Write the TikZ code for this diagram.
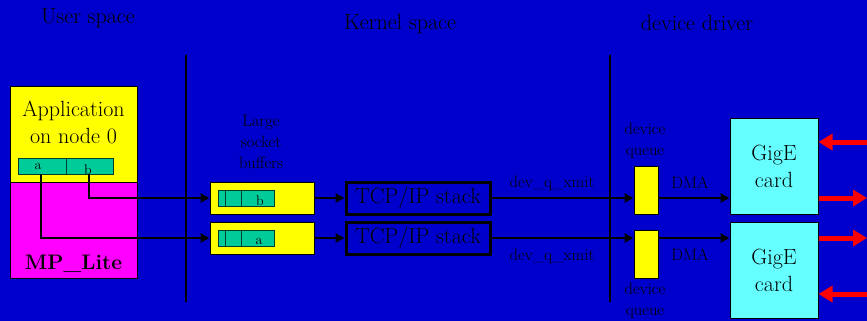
\documentclass[tikz,border=0pt]{standalone}
\usetikzlibrary{arrows.meta}
\definecolor{bg}{HTML}{0000CC}
\definecolor{teal}{HTML}{00CC99}
\definecolor{cardc}{HTML}{66FFFF}
\definecolor{mag}{HTML}{FF00FF}
\definecolor{yel}{HTML}{FFFF00}
\begin{document}
\begin{tikzpicture}[x=1pt,y=-1pt,
  title/.style={font=\fontsize{22}{24}\selectfont, inner sep=0},
  big/.style={font=\fontsize{22}{27}\selectfont, align=center, inner sep=0},
  small/.style={font=\fontsize{16.5}{21}\selectfont, align=center, inner sep=0},
  tiny/.style={font=\fontsize{14}{16}\selectfont, inner sep=0},
  ybox/.style={draw=black, line width=1pt, fill=yel},
  tbox/.style={draw=black!70!teal, line width=1pt, fill=teal},
  stackbox/.style={draw=black, line width=3pt, fill=bg},
  conn/.style={draw=black, line width=2.5pt, -{Triangle[length=9pt,width=9pt]}},
  redarr/.style={draw=red, line width=5pt, -{Triangle[length=14pt,width=16pt]}},
  sep/.style={draw=black, line width=1.5pt}]
\fill[bg] (0,0) rectangle (867,321);
\useasboundingbox (0,0) rectangle (867,321);
% titles
\node[title] (tu) at (88,18) {User space};
\node[title] (tk) at (400,24) {Kernel space};
\node[title] (td) at (697,23) {device driver};
% separators
\coordinate (s1a) at (186,55); \coordinate (s1b) at (186,302);
\coordinate (s2a) at (610,55); \coordinate (s2b) at (610,302);
\draw[sep] (s1a) -- (s1b);
\draw[sep] (s2a) -- (s2b);
% application
\path[ybox] (10,86) rectangle (137,182);
\path[draw=black, line width=1pt, fill=mag] (10,182) rectangle (137,278);
\node[big] (app) at (73.5,122) {Application\\on node 0};
\node[font=\bfseries\fontsize{21}{24}\selectfont, inner sep=0] (mpl) at (73.5,264) {MP\_Lite};
\path[tbox] (18,158) rectangle (113,174);
\draw[black!70!teal, line width=1pt] (66,158) -- (66,174);
\node[tiny] (la) at (38,166) {a};
\node[tiny] (lb) at (88,170) {b};
\coordinate (pa) at (41,174);
\coordinate (pb) at (89,174);
% socket buffers
\node[small] (lsb) at (261,142) {Large\\socket\\buffers};
\node[ybox, minimum width=104pt, minimum height=32pt, inner sep=0] (sb1) at (262,198) {};
\node[ybox, minimum width=104pt, minimum height=32pt, inner sep=0] (sb2) at (262,238) {};
\path[tbox] (218,190) rectangle (274,206);
\draw[black!70!teal, line width=1pt] (225,190) -- (225,206) (241,190) -- (241,206);
\node[tiny] (sbb) at (260,201) {b};
\path[tbox] (218,230) rectangle (274,246);
\draw[black!70!teal, line width=1pt] (225,230) -- (225,246) (241,230) -- (241,246);
\node[tiny] (sba) at (259,241) {a};
% wires from app buffer
\draw[conn] (pb) |- (sb1.west);
\draw[conn] (pa) |- (sb2.west);
% TCP stacks
\node[stackbox, minimum width=144pt, minimum height=32pt, inner sep=0, font=\fontsize{22}{24}\selectfont] (tcp1) at (418,198) {TCP/IP stack};
\node[stackbox, minimum width=144pt, minimum height=32pt, inner sep=0, font=\fontsize{22}{24}\selectfont] (tcp2) at (418,238) {TCP/IP stack};
\draw[conn] (sb1.east) -- (tcp1.west);
\draw[conn] (sb2.east) -- (tcp2.west);
% device queues
\node[ybox, minimum width=24pt, minimum height=48pt, inner sep=0] (dq1) at (646,190) {};
\node[ybox, minimum width=24pt, minimum height=48pt, inner sep=0] (dq2) at (646,254) {};
\node[small] (ldq1) at (645,141) {device\\queue};
\node[small] (ldq2) at (645,301) {device\\queue};
\coordinate (dq1in) at (dq1.west |- tcp1.east);
\coordinate (dq2in) at (dq2.west |- tcp2.east);
\draw[conn] (tcp1.east) -- (dq1in);
\draw[conn] (tcp2.east) -- (dq2in);
\node[small] (x1) at (552,183) {dev\_q\_xmit};
\node[small] (x2) at (552,256) {dev\_q\_xmit};
% GigE cards
\node[draw=black, line width=1pt, fill=cardc, minimum width=88pt, minimum height=96pt, inner sep=0, big] (g1) at (774,166) {GigE\\card};
\node[draw=black, line width=1pt, fill=cardc, minimum width=88pt, minimum height=96pt, inner sep=0, big] (g2) at (774,270) {GigE\\card};
\coordinate (dq1out) at (dq1.east |- tcp1.east);
\coordinate (dq2out) at (dq2.east |- tcp2.east);
\draw[conn] (dq1out) -- (g1.west |- dq1out);
\draw[conn] (dq2out) -- (g2.west |- dq2out);
\node[small] (dma1) at (690,183) {DMA};
\node[small] (dma2) at (690,255) {DMA};
% red arrows
\coordinate (r1) at (867,142);
\coordinate (r2) at (867,198);
\coordinate (r3) at (867,238);
\coordinate (r4) at (867,294);
\draw[redarr] (r1) -- (g1.east |- r1);
\draw[redarr] (g1.east |- r2) -- (r2);
\draw[redarr] (g2.east |- r3) -- (r3);
\draw[redarr] (r4) -- (g2.east |- r4);
\end{tikzpicture}
\end{document}
